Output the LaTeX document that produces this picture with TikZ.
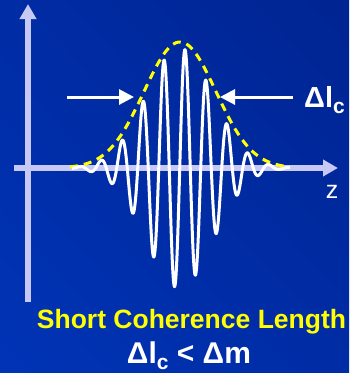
\documentclass[tikz,border=0pt]{standalone}
\usepackage{fontspec}
\setmainfont{Liberation Sans}
\usetikzlibrary{arrows.meta,shadings}
\definecolor{bgdark}{RGB}{0,36,145}
\definecolor{bgmid}{RGB}{0,44,165}
\definecolor{bglight}{RGB}{0,52,182}
\definecolor{axiscol}{RGB}{200,200,245}
\definecolor{envcol}{RGB}{255,255,0}
\tikzset{
  axisline/.style={draw=axiscol, line width=5.5pt, -{Triangle[width=16pt,length=15pt]}},
  wave/.style={draw=white, line width=3pt, line join=round},
  envelope/.style={draw=envcol, line width=3pt, dash pattern=on 8pt off 6pt},
  widtharrow/.style={draw=white, line width=3pt, -{Triangle[width=15pt,length=15pt]}},
  lbl/.style={inner sep=0pt, text=white, font=\bfseries\fontsize{29}{33}\selectfont},
}
\begin{document}
\begin{tikzpicture}[x=1pt,y=-1pt]
\shade[upper right=bgdark, upper left=bgmid, lower right=bgmid, lower left=bglight] (0,0) rectangle (349,373);
\useasboundingbox (0,0) rectangle (349,373);
% axes
\coordinate (vb) at (28,302);
\coordinate (vt) at (28,4);
\coordinate (hl) at (14,168);
\coordinate (hr) at (338,168);
\draw[axisline] (vb) -- (vt);
\draw[axisline] (hl) -- (hr);
% envelope
\draw[envelope] plot[domain=70:288, samples=120, smooth] (\x, {168 - 126*exp(-0.5*((\x-180)/36)^2)});
% wave
\draw[wave] plot[domain=72:290, samples=600, smooth] (\x, {168 - 120*exp(-0.5*((\x-179.5)/33.5)^2)*cos((\x-185)*17.142857)});
% width arrows
\coordinate (la) at (67,97);
\coordinate (lb) at (134,97);
\coordinate (ra) at (293,97);
\coordinate (rb) at (220,97);
\draw[widtharrow] (la) -- (lb);
\draw[widtharrow] (ra) -- (rb);
% labels
\node[lbl, anchor=base west] (dlc) at (304,107) {Δl\raisebox{-6pt}{\fontsize{21}{23}\selectfont c}};
\node[inner sep=0pt, text=white, font=\fontsize{25}{29}\selectfont, anchor=base] (z) at (332,198) {z};
\node[inner sep=0pt, text=envcol, font=\bfseries\fontsize{26.5}{30}\selectfont, anchor=base] (scl) at (191.5,328) {Short Coherence Length};
\node[lbl, font=\bfseries\fontsize{30}{34}\selectfont, anchor=base] (rel) at (189,363) {Δl\raisebox{-6pt}{\fontsize{21}{23}\selectfont c} < Δm};
\end{tikzpicture}
\end{document}
